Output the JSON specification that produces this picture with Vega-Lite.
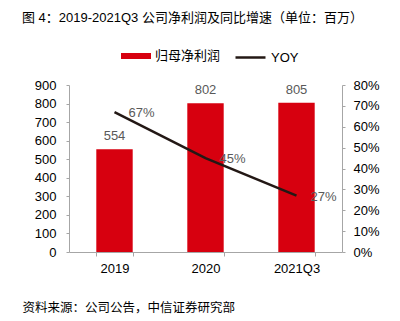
{
  "$schema": "https://vega.github.io/schema/vega-lite/v6.json",
  "width": 273,
  "height": 167,
  "autosize": "none",
  "padding": {"left": 69, "top": 85, "right": 58, "bottom": 69},
  "background": "white",
  "config": {
    "view": {"stroke": null},
    "font": "Liberation Sans, Noto Sans CJK SC, sans-serif"
  },
  "title": {
    "text": "图 4：2019-2021Q3 公司净利润及同比增速（单位：百万）",
    "anchor": "start",
    "frame": "group",
    "fontSize": 13,
    "fontWeight": "normal",
    "color": "#000000",
    "dx": -47,
    "dy": -6,
    "baseline": "middle"
  },
  "data": {
    "values": [
      {"year": "2019", "profit": 554, "yoy": 0.67},
      {"year": "2020", "profit": 802, "yoy": 0.45},
      {"year": "2021Q3", "profit": 805, "yoy": 0.27}
    ]
  },
  "encoding": {
    "x": {
      "field": "year",
      "type": "ordinal",
      "sort": null,
      "scale": {"paddingInner": 0.6, "paddingOuter": 0.3},
      "axis": {
        "title": "资料来源：公司公告，中信证券研究部",
        "titleX": -47,
        "titleY": 55,
        "titleAlign": "left",
        "titleAnchor": "start",
        "titleBaseline": "middle",
        "titleFontSize": 12.5,
        "titleFontWeight": "normal",
        "titleColor": "#000000",
        "labelAngle": 0,
        "labelFontSize": 13,
        "labelColor": "#000000",
        "labelPadding": 6,
        "tickBand": "extent",
        "tickSize": 4,
        "domainColor": "#a6a6a6",
        "tickColor": "#a6a6a6",
        "grid": false
      }
    }
  },
  "layer": [
    {
      "encoding": {
        "y": {
          "field": "profit",
          "type": "quantitative",
          "scale": {"domain": [0, 900], "nice": false},
          "axis": {
            "title": null,
            "values": [0, 100, 200, 300, 400, 500, 600, 700, 800, 900],
            "labelFontSize": 13,
            "labelColor": "#000000",
            "labelPadding": 10,
            "tickSize": 3,
            "domainColor": "#a6a6a6",
            "tickColor": "#a6a6a6",
            "grid": false
          }
        }
      },
      "layer": [
        {
          "mark": {"type": "bar"},
          "encoding": {
            "fill": {
              "datum": "归母净利润",
              "type": "nominal",
              "scale": {"range": ["#d7000f"]},
              "legend": {
                "title": null,
                "orient": "none",
                "legendX": 52,
                "legendY": -44,
                "symbolType": "M-1,-0.2L1,-0.2L1,0.2L-1,0.2Z",
                "symbolSize": 900,
                "symbolStrokeWidth": 0,
                "labelFontSize": 13,
                "labelColor": "#000000",
                "labelOffset": 4
              }
            }
          }
        },
        {
          "mark": {"type": "text", "baseline": "bottom", "dy": -6, "fontSize": 13, "color": "#595959"},
          "encoding": {"text": {"field": "profit", "type": "quantitative"}}
        }
      ]
    },
    {
      "encoding": {
        "y": {
          "field": "yoy",
          "type": "quantitative",
          "scale": {"domain": [0, 0.8], "nice": false},
          "axis": {
            "title": null,
            "orient": "right",
            "format": ".0%",
            "values": [0, 0.1, 0.2, 0.3, 0.4, 0.5, 0.6, 0.7, 0.8],
            "labelFontSize": 13,
            "labelColor": "#000000",
            "labelPadding": 8,
            "tickSize": 3,
            "domainColor": "#a6a6a6",
            "tickColor": "#a6a6a6",
            "grid": false
          }
        }
      },
      "layer": [
        {
          "mark": {"type": "line", "strokeWidth": 2.5},
          "encoding": {
            "stroke": {
              "datum": "YOY",
              "type": "nominal",
              "scale": {"range": ["#231815"]},
              "legend": {
                "title": null,
                "orient": "none",
                "legendX": 165,
                "legendY": -44,
                "symbolType": "stroke",
                "symbolSize": 900,
                "symbolStrokeWidth": 2.5,
                "labelFontSize": 13,
                "labelColor": "#000000",
                "labelOffset": 4
              }
            }
          }
        },
        {
          "mark": {"type": "text", "align": "left", "baseline": "middle", "dx": 14, "dy": 1, "fontSize": 13, "color": "#595959"},
          "encoding": {"text": {"field": "yoy", "type": "quantitative", "format": ".0%"}}
        }
      ]
    }
  ],
  "resolve": {"scale": {"y": "independent", "fill": "independent", "stroke": "independent"}}
}
